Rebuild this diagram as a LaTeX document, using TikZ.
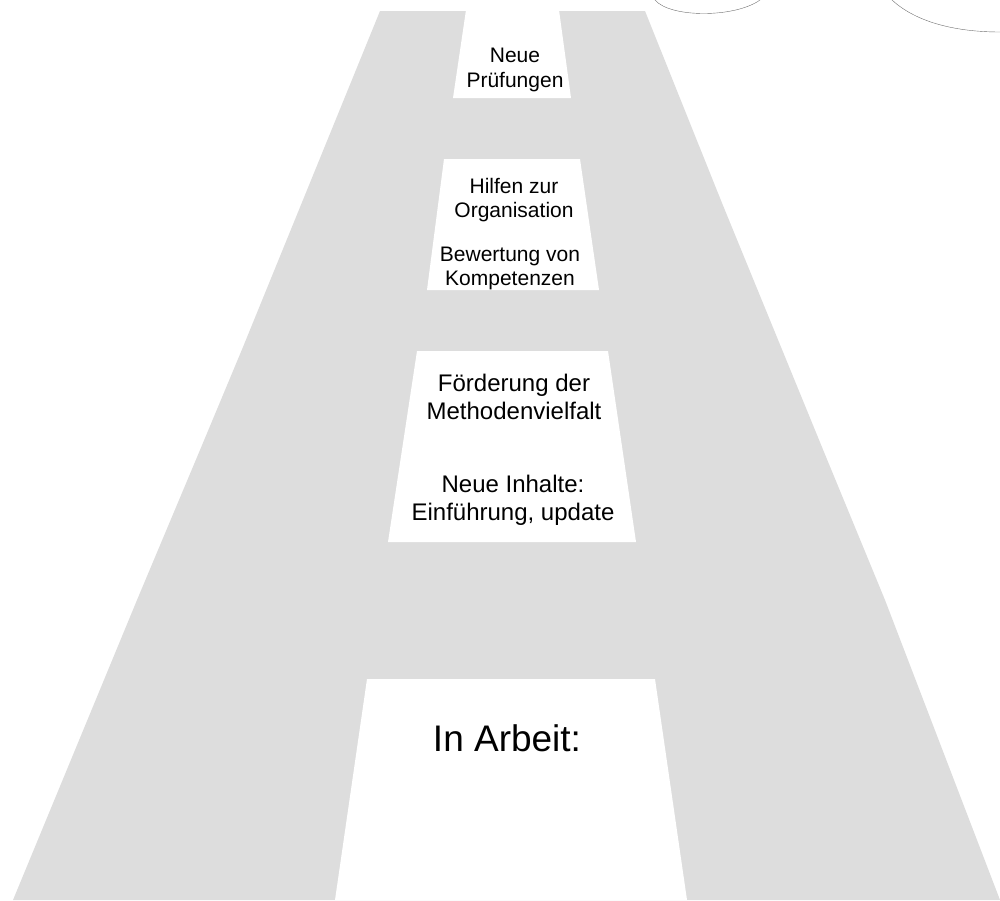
\documentclass[tikz,border=0pt]{standalone}
\usepackage{fontspec}
\setmainfont{Liberation Sans}
\definecolor{roadgrey}{RGB}{221,221,221}
\definecolor{cloudline}{RGB}{110,110,110}
\begin{document}
\begin{tikzpicture}[x=1pt,y=-1pt,
  road/.style={fill=roadgrey},
  lane/.style={fill=white},
  cloud/.style={draw=cloudline,line width=0.4pt},
  lbl/.style={anchor=north,align=center,inner sep=0pt,text=black}]
\useasboundingbox (0,0) rectangle (1000,900);
% road
\fill[road] (380,11) -- (645,11) -- (722,203) -- (824,452) -- (885,600)
  -- (1000,900) -- (13,900) -- (137,600) -- (200,450) -- (243,347) -- cycle;
% lane markings
\fill[lane] (466,10) -- (559,10) -- (571,98) -- (453,98) -- cycle;
\fill[lane] (444,159) -- (580,159) -- (599,290) -- (427,290) -- cycle;
\fill[lane] (417,351) -- (608,351) -- (636,542) -- (388,542) -- cycle;
\fill[lane] (367,679) -- (655,679) -- (687,900) -- (335,900) -- cycle;
% clouds
\draw[cloud] (655,0) .. controls (670,18) and (735,18) .. (760,0);
\draw[cloud] (892,0) .. controls (918,24) and (960,32) .. (1000,32);
% labels
\node[lbl,font=\fontsize{21}{25}\selectfont] (pruef) at (515,48) {Neue\\Prüfungen};
\node[lbl,font=\fontsize{21}{24.5}\selectfont] (orga) at (514,178) {Hilfen zur\\Organisation};
\node[lbl,font=\fontsize{21}{23.5}\selectfont] (bewert) at (510,247) {Bewertung von\\Kompetenzen};
\node[lbl,font=\fontsize{24}{28}\selectfont] (methode) at (514,374) {Förderung der\\Methodenvielfalt};
\node[lbl,font=\fontsize{24}{27.5}\selectfont] (inhalt) at (513,475) {Neue Inhalte:\\Einführung, update};
\node[lbl,font=\fontsize{37}{44}\selectfont] (arbeit) at (507,724) {In Arbeit:};
\end{tikzpicture}
\end{document}
